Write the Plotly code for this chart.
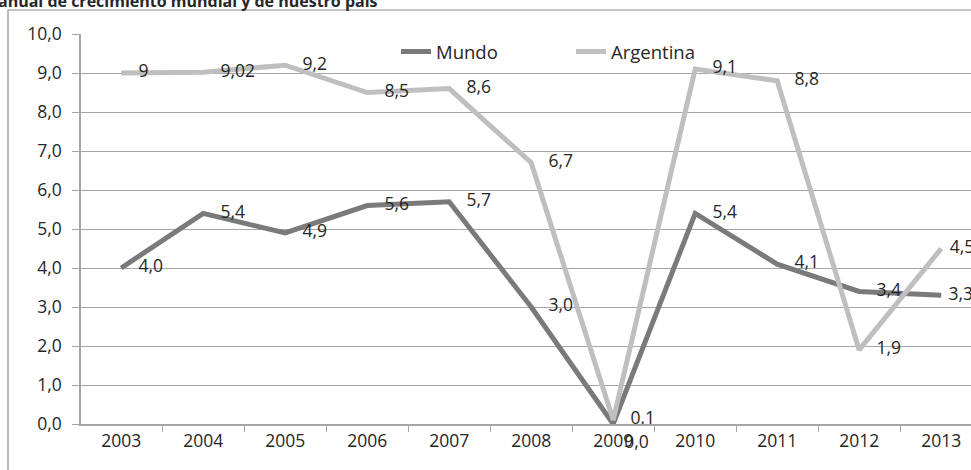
import plotly.graph_objects as go

years = ["2003", "2004", "2005", "2006", "2007", "2008", "2009", "2010", "2011", "2012", "2013"]
mundo = [4.0, 5.4, 4.9, 5.6, 5.7, 3.0, 0.0, 5.4, 4.1, 3.4, 3.3]
argentina = [9.0, 9.02, 9.2, 8.5, 8.6, 6.7, 0.1, 9.1, 8.8, 1.9, 4.5]
mundo_labels = ["4,0", "5,4", "4,9", "5,6", "5,7", "3,0", "0,0", "5,4", "4,1", "3,4", "3,3"]
argentina_labels = ["9", "9,02", "9,2", "8,5", "8,6", "6,7", "0,1", "9,1", "8,8", "1,9", "4,5"]
title_text = "anual de crecimiento mundial y de nuestro país"

W, H = 971, 470
L, R, T, B = 81, 0, 34, 46
pw, ph = W - L - R, H - T - B

def px_x(p):
    return (p - L) / pw

def px_y(p):
    return (H - B - p) / ph

FONT = "Open Sans"
TXT = "#262626"
CLEAR = "rgba(0,0,0,0)"

mundo_pos = ["middle right"] * len(years)
mundo_pos[6] = "bottom right"
mundo_msize = [26] * len(years)
mundo_msize[6] = 16
mundo_msize[-1] = 10
arg_msize = [26] * len(years)
arg_msize[-1] = 12

fig = go.Figure()
fig.add_trace(go.Scatter(
    x=years, y=mundo, name="Mundo", mode="lines+markers+text",
    line=dict(color="#7a7a7a", width=5),
    marker=dict(size=mundo_msize, color=CLEAR, line=dict(width=0, color=CLEAR)),
    text=mundo_labels, textposition=mundo_pos, cliponaxis=False,
    textfont=dict(family=FONT, size=17.5, color=TXT),
))
fig.add_trace(go.Scatter(
    x=years, y=argentina, name="Argentina", mode="lines+markers+text",
    line=dict(color="#bfbfbf", width=5),
    marker=dict(size=arg_msize, color=CLEAR, line=dict(width=0, color=CLEAR)),
    text=argentina_labels, textposition="middle right", cliponaxis=False,
    textfont=dict(family=FONT, size=17.5, color=TXT),
))

fig.update_layout(
    width=W, height=H,
    margin=dict(l=L, r=R, t=T, b=B, pad=0),
    paper_bgcolor="white", plot_bgcolor="white",
    separators=",.",
    font=dict(family=FONT, size=17.5, color=TXT),
    showlegend=True,
    legend=dict(
        orientation="h", x=px_x(396), y=px_y(52), xanchor="left", yanchor="middle",
        bgcolor=CLEAR, entrywidth=130, entrywidthmode="pixels",
        font=dict(family=FONT, size=18.5, color=TXT), itemwidth=30,
    ),
    xaxis=dict(
        type="category", range=[-0.49, (W - L) / 82 - 0.49],
        showgrid=False, showline=True, linecolor="#a6a6a6", linewidth=1.5,
        ticks="outside", tickson="boundaries", ticklen=6, tickcolor="#a6a6a6",
        tickfont=dict(family=FONT, size=17.5, color=TXT), zeroline=False,
    ),
    yaxis=dict(
        range=[0, 10], tickvals=[0, 1, 2, 3, 4, 5, 6, 7, 8, 9, 10], tickformat=".1f",
        showgrid=True, gridcolor="#a6a6a6", gridwidth=1,
        showline=True, linecolor="#a6a6a6", linewidth=1.5,
        ticks="outside", ticklen=7, tickcolor="#a6a6a6", ticklabelstandoff=7,
        tickfont=dict(family=FONT, size=17.5, color=TXT), zeroline=False,
    ),
    shapes=[dict(
        type="rect", xref="paper", yref="paper",
        x0=px_x(8), x1=px_x(1000), y0=px_y(500), y1=px_y(10),
        line=dict(color="#8c8c8c", width=1.2), fillcolor=CLEAR, layer="below",
    )],
    annotations=[dict(
        text="<b>" + title_text + "</b>", xref="paper", yref="paper",
        x=px_x(-4), y=px_y(1), xanchor="left", yanchor="middle", showarrow=False,
        font=dict(family=FONT, size=16, color=TXT),
    )],
)

fig.write_html("out.html", config={"displayModeBar": False},
               post_script="document.body.style.margin='0';document.body.style.overflow='hidden';")
